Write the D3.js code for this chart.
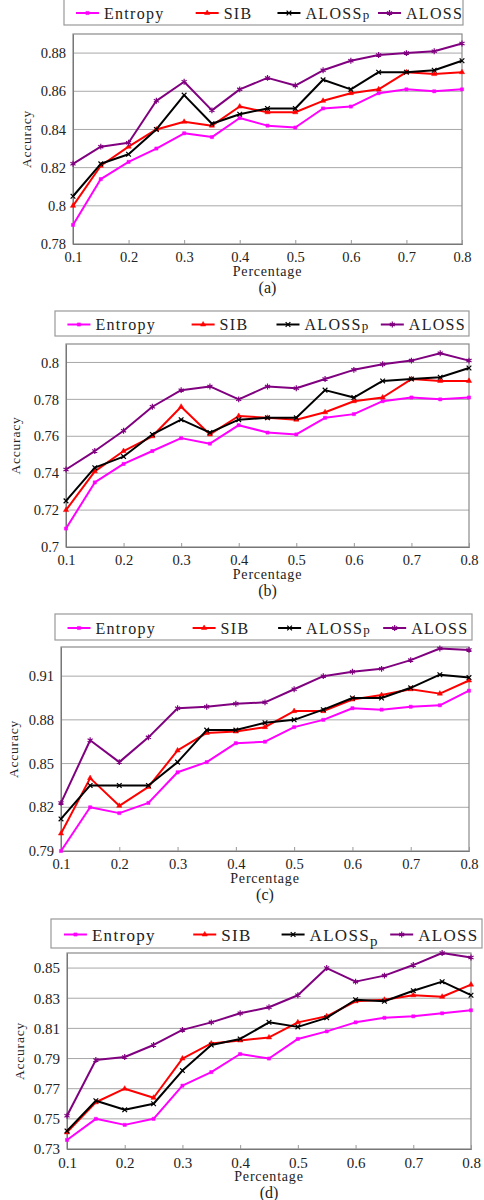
<!DOCTYPE html>
<html>
<head>
<meta charset="utf-8">
<script src="https://cdn.jsdelivr.net/npm/d3@7"></script>
<style>
  body { margin: 0; background: #fff; }
  text { font-family: "Liberation Serif", "DejaVu Serif", serif; fill: #222; }
</style>
</head>
<body>
<div id="container"></div>
<script>
let w = 484;
let h = 1200;

// x values shared by all four panels
let percentage = [0.1, 0.15, 0.2, 0.25, 0.3, 0.35, 0.4, 0.45, 0.5, 0.55, 0.6, 0.65, 0.7, 0.75, 0.8];
let xTicks = [0.1, 0.2, 0.3, 0.4, 0.5, 0.6, 0.7, 0.8];
let seriesNames = ["Entropy", "SIB", "ALOSSp", "ALOSS"];

// (a)
let entropyA = [0.790, 0.814, 0.823, 0.830, 0.838, 0.836, 0.846, 0.842, 0.841, 0.851, 0.852, 0.859, 0.861, 0.860, 0.861];
let sibA     = [0.800, 0.821, 0.831, 0.840, 0.844, 0.842, 0.852, 0.849, 0.849, 0.855, 0.859, 0.861, 0.870, 0.869, 0.870];
let alosspA  = [0.805, 0.822, 0.827, 0.840, 0.858, 0.843, 0.848, 0.851, 0.851, 0.866, 0.861, 0.870, 0.870, 0.871, 0.876];
let alossA   = [0.822, 0.831, 0.833, 0.855, 0.865, 0.850, 0.861, 0.867, 0.863, 0.871, 0.876, 0.879, 0.880, 0.881, 0.885];
let yTicksA  = [0.78, 0.80, 0.82, 0.84, 0.86, 0.88];

// (b)
let entropyB = [0.710, 0.735, 0.745, 0.752, 0.759, 0.756, 0.766, 0.762, 0.761, 0.770, 0.772, 0.779, 0.781, 0.780, 0.781];
let sibB     = [0.720, 0.741, 0.752, 0.760, 0.776, 0.761, 0.771, 0.770, 0.769, 0.773, 0.779, 0.781, 0.791, 0.790, 0.790];
let alosspB  = [0.725, 0.743, 0.749, 0.761, 0.769, 0.762, 0.769, 0.770, 0.770, 0.785, 0.781, 0.790, 0.791, 0.792, 0.797];
let alossB   = [0.742, 0.752, 0.763, 0.776, 0.785, 0.787, 0.780, 0.787, 0.786, 0.791, 0.796, 0.799, 0.801, 0.805, 0.801];
let yTicksB  = [0.70, 0.72, 0.74, 0.76, 0.78, 0.80];

// (c)
let entropyC = [0.790, 0.820, 0.816, 0.823, 0.844, 0.851, 0.864, 0.865, 0.875, 0.880, 0.888, 0.887, 0.889, 0.890, 0.900];
let sibC     = [0.802, 0.840, 0.821, 0.834, 0.859, 0.871, 0.872, 0.875, 0.886, 0.886, 0.894, 0.897, 0.901, 0.898, 0.907];
let alosspC  = [0.812, 0.835, 0.835, 0.835, 0.851, 0.873, 0.873, 0.878, 0.880, 0.887, 0.895, 0.895, 0.902, 0.911, 0.909];
let alossC   = [0.823, 0.866, 0.851, 0.868, 0.888, 0.889, 0.891, 0.892, 0.901, 0.910, 0.913, 0.915, 0.921, 0.929, 0.928];
let yTicksC  = [0.79, 0.82, 0.85, 0.88, 0.91];

// (d)
let entropyD = [0.736, 0.750, 0.746, 0.750, 0.772, 0.781, 0.793, 0.790, 0.803, 0.808, 0.814, 0.817, 0.818, 0.820, 0.822];
let sibD     = [0.741, 0.761, 0.770, 0.764, 0.790, 0.800, 0.802, 0.804, 0.814, 0.818, 0.828, 0.829, 0.832, 0.831, 0.839];
let alosspD  = [0.742, 0.762, 0.756, 0.760, 0.782, 0.799, 0.803, 0.814, 0.811, 0.817, 0.829, 0.828, 0.835, 0.841, 0.832];
let alossD   = [0.752, 0.789, 0.791, 0.799, 0.809, 0.814, 0.820, 0.824, 0.832, 0.850, 0.841, 0.845, 0.852, 0.860, 0.857];
let yTicksD  = [0.73, 0.75, 0.77, 0.79, 0.81, 0.83, 0.85];

let colors = ["#ff00ff", "#ff0000", "#000000", "#800080"];

// symbols for each series
let symbolTimes = d3.symbolTimes || d3.symbolCross;
let symbolStar = d3.symbolAsterisk || d3.symbolCross;
let markers = [
  { type: d3.symbolSquare, size: 10, filled: true },
  { type: d3.symbolTriangle, size: 12, filled: true },
  { type: symbolTimes, size: 16, filled: false },
  { type: symbolStar, size: 24, filled: false }
];

let panels = [
  { caption: "(a)", series: [entropyA, sibA, alosspA, alossA], domain: [0.78, 0.89], ticks: yTicksA,
    left: 73, right: 462, top: 34, bottom: 244, legend: { x: 64, y: -1, w: 399, h: 26 }, labelX: 26, font: 14.5, sub: false },
  { caption: "(b)", series: [entropyB, sibB, alosspB, alossB], domain: [0.70, 0.81], ticks: yTicksB,
    left: 66, right: 469, top: 344, bottom: 547, legend: { x: 55, y: 311, w: 414, h: 25 }, labelX: 15, font: 14.5, sub: false },
  { caption: "(c)", series: [entropyC, sibC, alosspC, alossC], domain: [0.79, 0.93], ticks: yTicksC,
    left: 61, right: 469, top: 647, bottom: 851, legend: { x: 55, y: 614, w: 417, h: 26 }, labelX: 13, font: 14.5, sub: false },
  { caption: "(d)", series: [entropyD, sibD, alosspD, alossD], domain: [0.73, 0.86], ticks: yTicksD,
    left: 67, right: 471, top: 953, bottom: 1149, legend: { x: 51, y: 919, w: 431, h: 29 }, labelX: 19, font: 15, sub: true }
];

let legendOffsets = [0.03, 0.33, 0.535, 0.787];

let viz = d3.select('#container')
  .append('svg')
    .attr('width', w)
    .attr('height', h)
    .style('background-color', 'white')
;

function fmt(v){
  return String(+v.toFixed(2));
}

function drawMarker(g, m, color, x, y){
  g.append('path')
    .attr('d', d3.symbol().type(m.type).size(m.size)())
    .attr('transform', 'translate(' + x + ',' + y + ')')
    .attr('fill', m.filled ? color : 'none')
    .attr('stroke', color)
    .attr('stroke-width', m.filled ? 0.5 : 1.2);
}

function drawPanel(p){
  let g = viz.append('g');

  let xScale = d3.scaleLinear().domain([0.1, 0.8]).range([p.left, p.right]);
  let yScale = d3.scaleLinear().domain(p.domain).range([p.bottom, p.top]);

  // gridlines
  g.append('g').selectAll('line').data(p.ticks.slice(1)).enter().append('line')
    .attr('x1', p.left).attr('x2', p.right)
    .attr('y1', d => yScale(d)).attr('y2', d => yScale(d))
    .attr('stroke', '#a8a8a8').attr('stroke-width', 1);

  // frame
  g.append('rect')
    .attr('x', p.left).attr('y', p.top)
    .attr('width', p.right - p.left).attr('height', p.bottom - p.top)
    .attr('fill', 'none').attr('stroke', '#8a8a8a').attr('stroke-width', 1.2);

  // x axis (ticks pointing inside)
  let xAxis = d3.axisBottom(xScale).tickValues(xTicks).tickSize(-4).tickPadding(8).tickFormat(fmt);
  let xg = g.append('g').attr('transform', 'translate(0,' + p.bottom + ')').call(xAxis);
  xg.select('.domain').attr('stroke', '#777');
  xg.selectAll('.tick line').attr('stroke', '#999');
  xg.selectAll('text').attr('font-size', p.font).attr('font-family', '"Liberation Serif", serif').attr('fill', '#222');

  // y axis
  let yAxis = d3.axisLeft(yScale).tickValues(p.ticks).tickSize(0).tickPadding(7).tickFormat(fmt);
  let yg = g.append('g').attr('transform', 'translate(' + p.left + ',0)').call(yAxis);
  yg.select('.domain').attr('stroke', '#777');
  yg.selectAll('text').attr('font-size', p.font).attr('font-family', '"Liberation Serif", serif').attr('fill', '#222');

  // axis titles and caption
  let cx = (p.left + p.right) / 2;
  g.append('text').attr('x', cx).attr('y', p.bottom + 32)
    .attr('text-anchor', 'middle').attr('font-size', 14).attr('letter-spacing', 0.8)
    .text('Percentage');
  g.append('text')
    .attr('transform', 'translate(' + p.labelX + ',' + (p.top + p.bottom) / 2 + ') rotate(-90)')
    .attr('text-anchor', 'middle').attr('dy', '0.35em').attr('font-size', 13.5).attr('letter-spacing', 0.8)
    .text('Accuracy');
  g.append('text').attr('x', cx).attr('y', p.bottom + 49)
    .attr('text-anchor', 'middle').attr('font-size', 16)
    .text(p.caption);

  // lines and markers
  let line = d3.line().x((d, i) => xScale(percentage[i])).y(d => yScale(d));
  p.series.forEach(function(values, k){
    g.append('path').datum(values)
      .attr('d', line)
      .attr('fill', 'none')
      .attr('stroke', colors[k])
      .attr('stroke-width', 2)
      .attr('stroke-linejoin', 'round');
    values.forEach(function(v, i){
      drawMarker(g, markers[k], colors[k], xScale(percentage[i]), yScale(v));
    });
  });

  // legend
  let L = p.legend;
  let lg = g.append('g');
  lg.append('rect').attr('x', L.x).attr('y', L.y).attr('width', L.w).attr('height', L.h)
    .attr('fill', 'white').attr('stroke', '#999').attr('stroke-width', 1.2);
  let midY = L.y + L.h / 2 + 1;
  seriesNames.forEach(function(name, k){
    let x0 = L.x + legendOffsets[k] * L.w;
    lg.append('line').attr('x1', x0).attr('x2', x0 + 23).attr('y1', midY).attr('y2', midY)
      .attr('stroke', colors[k]).attr('stroke-width', 2);
    drawMarker(lg, markers[k], colors[k], x0 + 11.5, midY);
    let t = lg.append('text').attr('x', x0 + 28).attr('y', midY).attr('dy', '0.36em')
      .attr('font-size', p.sub ? 17 : 16).attr('letter-spacing', 1.3);
    if (name == 'ALOSSp'){
      t.append('tspan').text('ALOSS');
      if (p.sub){
        t.append('tspan').attr('dy', '0.35em').attr('font-size', 15).text('p');
      } else {
        t.append('tspan').attr('font-size', 13).text('p');
      }
    } else {
      t.text(name);
    }
  });
}

panels.forEach(drawPanel);
</script>
</body>
</html>
